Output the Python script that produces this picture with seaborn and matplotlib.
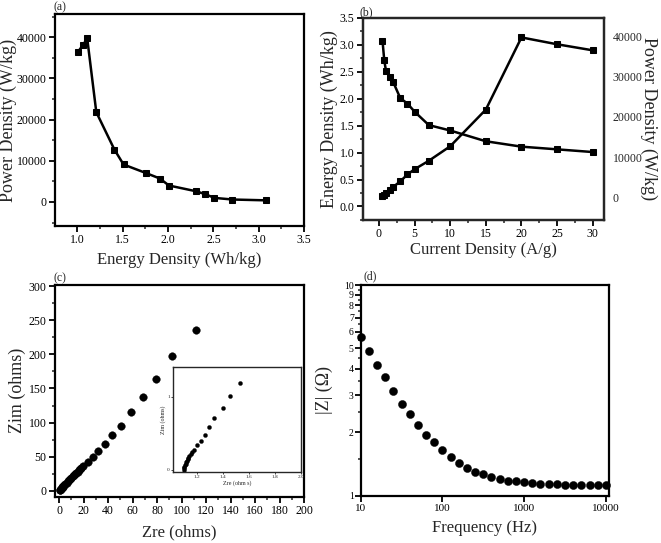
import matplotlib
matplotlib.use("Agg")
import matplotlib.pyplot as plt
import matplotlib.ticker as mticker
import seaborn as sns
import pandas as pd
import numpy as np

sns.set_style("ticks")
plt.rcParams["font.family"] = ["Liberation Serif", "DejaVu Serif"]
plt.rcParams["mathtext.fontset"] = "stix"

# --- data ---
current_density = [0.5, 0.75, 1, 1.5, 2, 3, 4, 5, 7, 10, 15, 20, 25, 30]
energy_density = [3.08, 2.71, 2.51, 2.41, 2.31, 2.01, 1.91, 1.76, 1.51, 1.41, 1.21, 1.11, 1.06, 1.01]
power_density = [400, 600, 1000, 1900, 2600, 4000, 5700, 7000, 9100, 12700, 21800, 39700, 38000, 36500]

zre = [0.3, 0.8, 1.2, 1.6, 2.0, 2.5, 3.0, 3.5, 4.0, 5.0, 6.0, 7.0, 8.0, 9.0, 10.0, 11.0,
       12.0, 13.0, 14.0, 15.0, 16.0, 17.0, 18.0, 19.6, 23.2, 27.8, 32.0, 37.6, 43.3,
       50.7, 59.0, 68.7, 79.0, 92.4, 112.0]
zim = [0.5, 1.0, 2.0, 3.0, 4.0, 5.0, 6.0, 7.0, 8.0, 10.0, 12.0, 13.5, 15.5, 17.0, 19.0, 21.0,
       22.5, 24.5, 26.0, 28.0, 30.0, 32.0, 34.0, 36.8, 42.0, 49.0, 58.0, 68.6, 81.0,
       95.6, 115.0, 137.0, 164.0, 197.0, 236.0]

zre_inset = [1.10, 1.103, 1.106, 1.11, 1.115, 1.12, 1.125, 1.13, 1.137, 1.145, 1.155, 1.165,
             1.18, 1.205, 1.231, 1.262, 1.295, 1.337, 1.40, 1.46, 1.53]
zim_inset = [0.0, 0.02, 0.04, 0.06, 0.08, 0.10, 0.12, 0.14, 0.16, 0.18, 0.21, 0.24,
             0.27, 0.33, 0.39, 0.48, 0.58, 0.70, 0.84, 1.01, 1.19]

frequency = [10, 12.6, 15.8, 20, 25.1, 31.6, 39.8, 50.1, 63.1, 79.4, 100, 126, 158, 200, 251,
             316, 398, 501, 631, 794, 1000, 1259, 1585, 1995, 2512, 3162, 3981, 5012, 6310,
             7943, 10000]
z_mod = [5.69, 4.86, 4.19, 3.65, 3.15, 2.74, 2.44, 2.16, 1.95, 1.79, 1.64, 1.53, 1.43, 1.36,
         1.30, 1.27, 1.23, 1.20, 1.18, 1.17, 1.16, 1.15, 1.14, 1.14, 1.14, 1.13, 1.13, 1.12,
         1.12, 1.12, 1.12]

df = pd.DataFrame({"cd": current_density, "ed": energy_density, "pd": power_density})
df_z = pd.DataFrame({"zre": zre, "zim": zim})
df_in = pd.DataFrame({"zre": zre_inset, "zim": zim_inset})
df_b = pd.DataFrame({"f": frequency, "z": z_mod})

XL = 12
YL = 13
TCK = 8.5
PNL = 8.5


def style_ax(ax):
    for s in ax.spines.values():
        s.set_linewidth(1.6)
        s.set_color("black")
    ax.tick_params(which="major", direction="out", length=4, width=1.3, labelsize=TCK,
                   top=False, right=False, colors="black", pad=2)
    ax.tick_params(which="minor", direction="out", length=2.5, width=1.1,
                   top=False, right=False)


fig = plt.figure(figsize=(6.61, 5.43), dpi=100)

# (a) Ragone plot
ax_a = fig.add_axes([0.0832, 0.584, 0.377, 0.390])
sns.lineplot(data=df, x="ed", y="pd", ax=ax_a, sort=False, color="black", lw=1.8,
             marker="s", markersize=4.8, markeredgecolor="black")
ax_a.set_xlim(0.755, 3.5)
ax_a.set_ylim(-5800, 45600)
ax_a.xaxis.set_major_locator(mticker.MultipleLocator(0.5))
ax_a.xaxis.set_minor_locator(mticker.MultipleLocator(0.25))
ax_a.yaxis.set_major_locator(mticker.FixedLocator([0, 10000, 20000, 30000, 40000]))
ax_a.yaxis.set_minor_locator(mticker.MultipleLocator(5000))
style_ax(ax_a)
ax_a.set_xlabel("Energy Density (Wh/kg)", fontsize=XL, labelpad=4)
ax_a.set_ylabel("Power Density (W/kg)", fontsize=YL, labelpad=0)
ax_a.text(-0.005, 1.005, "(a)", transform=ax_a.transAxes, fontsize=PNL, ha="left", va="bottom")

# (b) energy / power density vs current density
ax_b = fig.add_axes([0.549, 0.595, 0.365, 0.372])
sns.lineplot(data=df, x="cd", y="ed", ax=ax_b, sort=False, color="black", lw=1.8,
             marker="s", markersize=4.8, markeredgecolor="black")
ax_b.set_xlim(-2.25, 31.6)
ax_b.set_ylim(-0.25, 3.5)
ax_b.xaxis.set_major_locator(mticker.MultipleLocator(5))
ax_b.xaxis.set_minor_locator(mticker.MultipleLocator(2.5))
ax_b.yaxis.set_major_locator(mticker.MultipleLocator(0.5))
ax_b.yaxis.set_minor_locator(mticker.MultipleLocator(0.25))
ax_b.yaxis.set_major_formatter(mticker.FormatStrFormatter("%.1f"))
style_ax(ax_b)
ax_b.set_xlabel("Current Density (A/g)", fontsize=XL, labelpad=1.5)
ax_b.set_ylabel("Energy Density (Wh/kg)", fontsize=YL, labelpad=1)
ax_b2 = ax_b.twinx()
sns.lineplot(data=df, x="cd", y="pd", ax=ax_b2, sort=False, color="black", lw=1.8,
             marker="s", markersize=4.8, markeredgecolor="black")
ax_b2.set_ylim(-5570, 44540)
ax_b2.yaxis.set_major_locator(mticker.FixedLocator([0, 10000, 20000, 30000, 40000]))
ax_b2.tick_params(axis="y", length=0, labelsize=TCK, pad=6)
ax_b2.set_ylabel("Power Density (W/kg)", fontsize=YL, rotation=270, labelpad=11)
for s in ax_b2.spines.values():
    s.set_linewidth(1.6)
ax_b.text(-0.015, 1.0, "(b)", transform=ax_b.transAxes, fontsize=PNL, ha="left", va="bottom")

# (c) Nyquist plot
ax_c = fig.add_axes([0.0832, 0.0853, 0.377, 0.39])
sns.scatterplot(data=df_z, x="zre", y="zim", ax=ax_c, color="black", s=30, edgecolor="black",
                linewidth=0.3)
ax_c.set_xlim(-3.4, 200)
ax_c.set_ylim(-8.8, 302)
ax_c.xaxis.set_major_locator(mticker.MultipleLocator(20))
ax_c.xaxis.set_minor_locator(mticker.MultipleLocator(10))
ax_c.yaxis.set_major_locator(mticker.MultipleLocator(50))
ax_c.yaxis.set_minor_locator(mticker.MultipleLocator(25))
style_ax(ax_c)
ax_c.set_xlabel("Zre (ohms)", fontsize=XL, labelpad=5)
ax_c.set_ylabel("Zim (ohms)", fontsize=YL, labelpad=2)
ax_c.text(-0.005, 1.005, "(c)", transform=ax_c.transAxes, fontsize=PNL, ha="left", va="bottom")

# inset
ax_in = fig.add_axes([0.262, 0.1313, 0.193, 0.192])
sns.scatterplot(data=df_in, x="zre", y="zim", ax=ax_in, color="black", s=9, edgecolor="black",
                linewidth=0.2)
ax_in.set_xlim(1.02, 2.0)
ax_in.set_ylim(-0.03, 1.4)
ax_in.xaxis.set_major_locator(mticker.FixedLocator([1.2, 1.4, 1.6, 1.8, 2.0]))
ax_in.yaxis.set_major_locator(mticker.FixedLocator([0, 1]))
for s in ax_in.spines.values():
    s.set_linewidth(1.0)
ax_in.tick_params(length=1.5, width=0.6, labelsize=3.8, pad=1)
ax_in.set_xlabel("Zre (ohm s)", fontsize=4.3, labelpad=1)
ax_in.set_ylabel("Zim (ohms)", fontsize=4.3, labelpad=1)

# (d) Bode |Z|
ax_d = fig.add_axes([0.5457, 0.087, 0.376, 0.388])
sns.scatterplot(data=df_b, x="f", y="z", ax=ax_d, color="black", s=34, edgecolor="black",
                linewidth=0.3, clip_on=False)
ax_d.set_xscale("log")
ax_d.set_yscale("log")
ax_d.set_xlim(10, 11000)
ax_d.set_ylim(1, 10)
ax_d.xaxis.set_major_locator(mticker.FixedLocator([10, 100, 1000, 10000]))
ax_d.xaxis.set_major_formatter(mticker.FixedFormatter(["10", "100", "1000", "10000"]))
ax_d.xaxis.set_minor_locator(mticker.NullLocator())
yt = [1, 2, 3, 4, 5, 6, 7, 8, 9, 10]
ax_d.yaxis.set_major_locator(mticker.FixedLocator(yt))
ax_d.yaxis.set_major_formatter(mticker.FixedFormatter([str(v) for v in yt]))
ax_d.yaxis.set_minor_locator(mticker.FixedLocator([1.5, 2.5, 3.5, 4.5, 5.5, 6.5, 7.5, 8.5, 9.5]))
ax_d.yaxis.set_minor_formatter(mticker.NullFormatter())
style_ax(ax_d)
ax_d.tick_params(axis="y", which="major", pad=1, labelsize=7)
ax_d.tick_params(axis="x", which="major", labelsize=8)
ax_d.set_xlabel("Frequency (Hz)", fontsize=XL, labelpad=5)
ax_d.set_ylabel("|Z| (\u03a9)", fontsize=YL, labelpad=8)
ax_d.text(0.012, 1.012, "(d)", transform=ax_d.transAxes, fontsize=PNL, ha="left", va="bottom")

for ax in [ax_a, ax_b, ax_c, ax_d]:
    ax.set_facecolor("white")

fig.savefig("out.png", dpi=100, facecolor="white")
